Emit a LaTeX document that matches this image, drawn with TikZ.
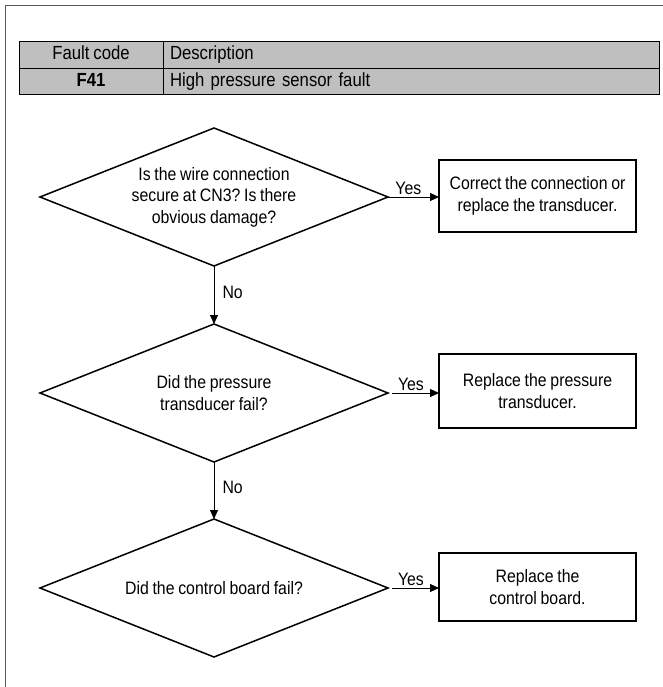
\documentclass[tikz,border=0pt]{standalone}
\usepackage{fontspec}
\setmainfont{Liberation Sans}[FakeStretch=0.88, WordSpace=0.85]
\frenchspacing
\usetikzlibrary{shapes.geometric,arrows.meta}
\definecolor{framegray}{HTML}{5A5A5A}
\definecolor{cellgray}{HTML}{BFBFBF}
\tikzset{
  txt/.style={font=\fontsize{18}{21.5}\selectfont},
  tabtxt/.style={font=\fontsize{19}{22}\selectfont},
  cell/.style={tabtxt, draw=black, line width=1pt, fill=cellgray, minimum height=26.5pt, text height=13.5pt, text depth=4pt, inner ysep=0pt, inner xsep=7pt, outer sep=0pt},
  dia/.style={txt, draw=black, line width=1.5pt, shape=diamond, shape aspect=2.5, minimum width=348pt, minimum height=138pt, inner sep=0pt, outer sep=0pt, align=center},
  actbox/.style={txt, draw=black, line width=1.8pt, minimum width=197pt, inner sep=0pt, outer sep=0pt, align=center},
  arr/.style={line width=1pt, -{Triangle[length=9pt,width=8pt]}},
  lbl/.style={txt, inner sep=2pt}
}
\begin{document}
\begin{tikzpicture}[x=1pt,y=-1pt]
\useasboundingbox (0,0) rectangle (662,687);
% outer frame
\draw[framegray, line width=1.8pt] (5.5,690) -- (5.5,5.5) -- (665,5.5);
% table
\node[cell, minimum width=144pt] (h1) at (91,55.25) {Fault code};
\node[cell, minimum width=496pt, text width=482pt, align=left] (h2) at (411,55.25) {Description};
\node[cell, minimum width=144pt] (r1) at (91,81.75) {\bfseries F41};
\node[cell, minimum width=496pt, text width=482pt, align=left] (r2) at (411,81.75) {High pressure sensor fault};
% decisions
\node[dia] (d1) at (214,197) {Is the wire connection\\secure at CN3? Is there\\obvious damage?};
\node[dia] (d2) at (214,393) {Did the pressure\\transducer fail?};
\node[dia] (d3) at (214,588) {Did the control board fail?};
% actions
\node[actbox, minimum height=72pt] (b1) at (537.5,196) {Correct the connection or\\replace the transducer.};
\node[actbox, minimum height=74pt] (b2) at (537.5,391) {Replace the pressure\\transducer.};
\node[actbox, minimum height=68pt] (b3) at (537.5,587) {Replace the\\control board.};
% connectors
\draw[arr] (d1.east) -- node[lbl, above, pos=0.4] {Yes} (d1.east -| b1.west);
\draw[arr, shorten <=4pt] (d2.east) -- node[lbl, above, pos=0.45] {Yes} (d2.east -| b2.west);
\draw[arr, shorten <=4pt] (d3.east) -- node[lbl, above, pos=0.45] {Yes} (d3.east -| b3.west);
\draw[arr] (d1.south) -- node[lbl, right, pos=0.45, xshift=6pt] {No} (d2.north);
\draw[arr] (d2.south) -- node[lbl, right, pos=0.45, xshift=6pt] {No} (d3.north);
\end{tikzpicture}
\end{document}
